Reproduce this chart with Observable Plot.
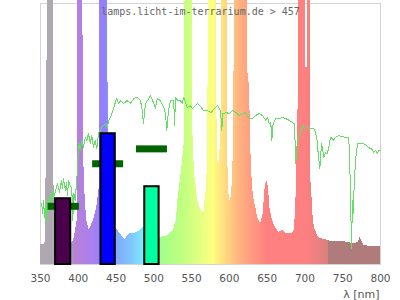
<!DOCTYPE html>
<html>
<head>
<meta charset="utf-8">
<script src="https://cdn.jsdelivr.net/npm/d3@7"></script>
<script src="https://cdn.jsdelivr.net/npm/@observablehq/plot@0.6"></script>
<style>
  html, body { margin: 0; padding: 0; background: #fff; }
  #chart { width: 400px; height: 300px; }
</style>
</head>
<body>
<div id="chart"></div>
<script>
// ---- data ----
const title = "lamps.licht-im-terrarium.de > 457";
const axisLabel = "λ [nm]";
const xTicks = [350, 400, 450, 500, 550, 600, 650, 700, 750, 800];

// lamp spectrum (relative intensity, 100 = top of frame; peaks exceed the frame)
const lampNm = [350, 355.3, 356.6, 358.6, 360, 366.5, 368, 390.6, 394, 398.6, 399.4, 404.7, 405, 406.4, 406.9, 409.2, 411.3, 414.5, 420.1, 424.5, 427.7, 429.4, 438.3, 440, 446, 450.6, 457.2, 461.6, 468.2, 474.8, 481.4, 485, 496, 508.8, 519, 525.6, 530, 531.7, 536.2, 540.6, 541.9, 550.2, 551.6, 553.8, 558.2, 562.7, 566.1, 569.3, 571.4, 572.7, 582.5, 583.8, 586.9, 588.9, 589.5, 597.1, 597.9, 599.2, 601.5, 604.1, 605.8, 607.2, 623.6, 624, 626.6, 628, 628.8, 630.6, 632.8, 635, 637.2, 641.6, 644.7, 647.4, 649.5, 651.8, 653.5, 657, 661.4, 665.9, 670.3, 674.7, 683.5, 685.8, 687.9, 689.2, 691.1, 693.2, 700.7, 701.2, 703, 703.2, 706.4, 707.3, 709.6, 710.9, 712.6, 715.3, 718.3, 725, 731.6, 732.5, 751, 756, 767, 771.3, 772.6, 774.5, 778, 786.8, 800];
const lampVal = [7.7, 7.7, 9.2, 76.2, 150, 150, 20, 8.0, 9.2, 16.9, 150, 150, 87.7, 87.7, 42.5, 24.5, 16.9, 13.0, 16.9, 21.8, 29.5, 150, 150, 20, 15, 13.8, 11.1, 9.6, 11.9, 11.9, 13.0, 14.2, 12, 10.3, 11.1, 13.0, 16.9, 24.5, 34.9, 47.5, 150, 150, 51.3, 34.9, 24.5, 20.7, 19.5, 28.4, 41.0, 150, 150, 40.2, 38.3, 55, 150, 150, 40.2, 27.2, 23.4, 32.2, 50.2, 150, 150, 75.1, 67.8, 50, 40, 29.5, 24.5, 21.8, 18.0, 15.7, 19.5, 29.5, 32.2, 29.5, 21.8, 16.9, 13.8, 12.3, 13.0, 11.9, 11.9, 13.0, 21.8, 40.2, 62.8, 150, 150, 75.5, 75.5, 150, 150, 34.9, 24.5, 17.6, 14.2, 11.9, 10.3, 9.6, 9.2, 8.8, 8.8, 8.4, 8.0, 8.8, 10.7, 9.2, 7.3, 6.9, 6.9];

// sunlight reference spectrum
const sunNm = [350.9, 351.7, 352.6, 354.0, 355.3, 356.2, 357.0, 358.3, 359.7, 360.6, 361.9, 363.2, 365.0, 366.3, 367.6, 368.9, 369.9, 372.5, 375.1, 377.8, 379.1, 380.4, 383.1, 384.4, 385.7, 387.1, 389.7, 391.4, 392.7, 394.1, 395.9, 397.2, 398.6, 399.4, 401.2, 402.5, 404.7, 406.9, 409.2, 411.3, 413.5, 415.8, 417.9, 420.1, 422.4, 424.5, 426.8, 431.1, 435.6, 438.3, 440.4, 442.6, 444.4, 447.0, 450.6, 453.6, 455.9, 460.2, 464.7, 469.1, 473.5, 478.0, 482.4, 484.6, 486.3, 489.0, 493.3, 495.6, 500.0, 502.2, 504.5, 508.8, 513.2, 515.4, 517.2, 519.4, 522.1, 526.4, 527.4, 528.7, 531.7, 535.3, 537.5, 539.7, 544.2, 548.5, 550.8, 553.8, 557.8, 561.8, 565.7, 571.0, 575.9, 580.3, 584.3, 588.2, 590.0, 591.3, 595.8, 600.1, 604.5, 609.0, 612.4, 617.3, 621.7, 626.2, 630.6, 634.9, 639.4, 643.8, 648.2, 650.4, 652.7, 654.8, 656.1, 657.9, 661.4, 665.9, 670.3, 674.7, 679.2, 683.5, 685.8, 687.1, 687.9, 689.2, 691.5, 694.5, 696.8, 699.0, 703.4, 707.3, 711.7, 714.0, 716.2, 717.5, 719.7, 721.9, 723.6, 725.0, 727.2, 729.4, 731.6, 733.8, 736.1, 738.2, 740.4, 744.8, 749.3, 753.7, 758.0, 759.4, 760.3, 761.6, 762.9, 763.9, 764.7, 766.0, 767.8, 770.0, 772.6, 775.8, 780.1, 784.5, 789.0, 791.1, 793.4, 795.6, 797.7, 800.0];
const sunVal = [22.0, 23.3, 19.4, 24.5, 18.1, 22.6, 15.6, 24.5, 19.4, 25.8, 22.0, 26.4, 24.5, 28.3, 25.8, 27.1, 28.3, 31.0, 27.6, 32.2, 29.1, 32.9, 28.3, 31.4, 26.4, 32.2, 29.9, 29.5, 16.9, 27.2, 24.5, 29.5, 34.9, 39.8, 46.4, 43.7, 47.5, 44.8, 48.7, 47.5, 50.2, 46.4, 49.4, 44.8, 47.5, 44.4, 50.2, 52.5, 54.0, 52.5, 55.2, 56.3, 57.8, 60.1, 63.6, 61.7, 62.8, 61.7, 62.8, 61.7, 63.6, 64.0, 62.8, 59.0, 54.0, 61.7, 63.6, 64.7, 61.7, 59.8, 63.6, 62.8, 60.1, 57.8, 51.3, 59.0, 62.8, 62.8, 53.3, 64.0, 62.8, 62.8, 61.7, 64.0, 60.1, 60.9, 59.8, 60.5, 61.7, 60.5, 59.0, 59.0, 58.2, 59.8, 60.9, 59.0, 51.3, 57.8, 58.2, 57.8, 59.0, 58.2, 57.1, 57.8, 58.2, 55.9, 55.9, 57.1, 57.8, 57.1, 55.2, 56.3, 54.0, 54.4, 47.5, 54.0, 55.9, 55.9, 56.3, 55.9, 55.2, 54.4, 54.0, 46.4, 38.7, 44.8, 48.7, 50.6, 53.3, 52.1, 52.5, 52.1, 52.1, 50.6, 47.5, 42.5, 36.8, 46.4, 43.7, 41.0, 42.9, 42.5, 44.8, 48.7, 48.3, 47.5, 48.7, 49.4, 49.0, 48.7, 48.7, 37.2, 28.3, 6.1, 24.5, 19.5, 27.2, 34.9, 42.5, 46.4, 46.4, 46.4, 46.0, 44.8, 44.1, 42.9, 43.7, 42.5, 43.7, 43.7];

// bars (LED-like bands)
const barStart = [370, 430, 488];
const barEnd = [390, 449, 507];
const barVal = [25.2, 50.1, 29.8];
const barColor = ["#4b004b", "#0000ff", "#00ffa0"];

// dark green reference dashes
const dashStart = [360, 419, 477];
const dashEnd = [401.5, 460, 518];
const dashVal = [22.3, 38.6, 44.3];

// spectral colour stops for the lamp area
const stopNm = [350, 388, 396, 420, 435, 450, 470, 485, 495, 509, 544, 579, 592, 615, 650, 700, 730.5, 731.5, 800];
const stopColor = ["#b0a8b0", "#b0a8b0", "#b880d8", "#a880f0", "#9080ff", "#80a8ff", "#80c4ff", "#80e6ff", "#88f8d0", "#a0ff88", "#c8ff80", "#ffff80", "#ffe080", "#ffb080", "#ff8080", "#ff8080", "#dc8080", "#b07b7b", "#b07b7b"];

// ---- tables ----
const lamp = lampNm.map((x, i) => ({x, y: lampVal[i]}));
const sun = sunNm.map((x, i) => ({x, y: sunVal[i]}));
const bars = barStart.map((x1, i) => ({x1, x2: barEnd[i], y: barVal[i], c: barColor[i]}));
const dashes = dashStart.map((x1, i) => ({x1, x2: dashEnd[i], y: dashVal[i]}));

const plot = Plot.plot({
  width: 400,
  height: 300,
  marginLeft: 40,
  marginRight: 20,
  marginTop: 3,
  marginBottom: 36,
  style: {fontFamily: "DejaVu Sans", fontSize: "10.5px", color: "#555", background: "#fff"},
  x: {domain: [350, 800], ticks: xTicks, tickSize: 0, tickPadding: 10, label: null},
  y: {domain: [0, 100], axis: null},
  marks: [
    Plot.frame({stroke: "#d4d4d4"}),
    Plot.areaY(lamp, {x: "x", y: "y", fill: "url(#specGrad)", shapeRendering: "crispEdges"}),
    Plot.line(sun, {x: "x", y: "y", stroke: "#66dd66", strokeWidth: 1, shapeRendering: "crispEdges"}),
    Plot.ruleY(dashes, {y: "y", x1: "x1", x2: "x2", stroke: "#006400", strokeWidth: 7}),
    Plot.rectY(bars, {x1: "x1", x2: "x2", y: "y", fill: "c", stroke: "#000", strokeWidth: 2, inset: 0}),
    Plot.text([title], {frameAnchor: "top", dx: -10, dy: 4, lineAnchor: "top", text: d => d,
      fontFamily: "DejaVu Sans Mono", fontSize: 10, fill: "#666"}),
    Plot.text([axisLabel], {frameAnchor: "bottom-right", textAnchor: "end", dx: -1, dy: 33, lineAnchor: "bottom", text: d => d,
      fontSize: 11, fill: "#555"})
  ]
});

// gradient definition mapped through the x scale
const xs = plot.scale("x");
const x0 = xs.apply(350), x1 = xs.apply(800);
const ns = "http://www.w3.org/2000/svg";
const defs = document.createElementNS(ns, "defs");
const grad = document.createElementNS(ns, "linearGradient");
grad.setAttribute("id", "specGrad");
grad.setAttribute("gradientUnits", "userSpaceOnUse");
grad.setAttribute("x1", x0); grad.setAttribute("x2", x1);
grad.setAttribute("y1", 0); grad.setAttribute("y2", 0);
stopNm.forEach((nm, i) => {
  const s = document.createElementNS(ns, "stop");
  s.setAttribute("offset", (xs.apply(nm) - x0) / (x1 - x0));
  s.setAttribute("stop-color", stopColor[i]);
  grad.appendChild(s);
});
defs.appendChild(grad);
plot.insertBefore(defs, plot.firstChild);
document.getElementById("chart").appendChild(plot);
</script>
</body>
</html>
